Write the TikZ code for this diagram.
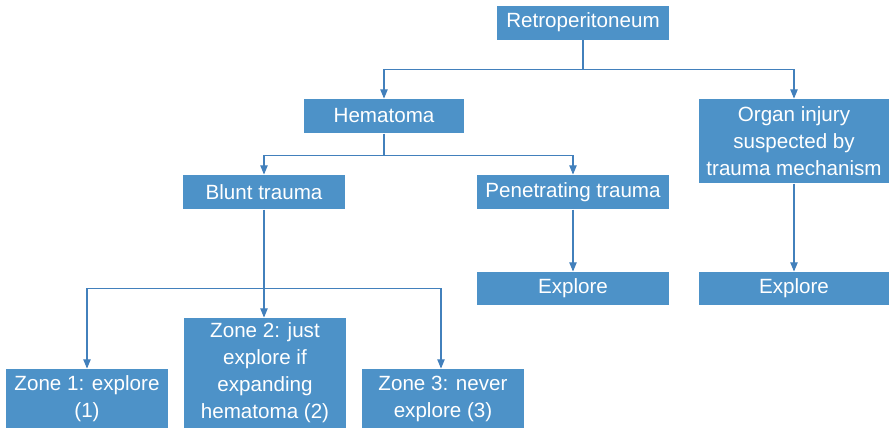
\documentclass[tikz,border=0pt]{standalone}
\usepackage{fontspec}
\setmainfont{Liberation Sans}
\usepackage{tikz}
\usetikzlibrary{arrows}

\definecolor{boxblue}{RGB}{77,146,200}
\definecolor{lineblue}{RGB}{66,128,188}

\begin{document}
\begin{tikzpicture}[x=1bp,y=-1bp,line width=1.1bp]
\fontsize{20.6bp}{27bp}\selectfont
\tikzstyle{box}=[rectangle, fill=boxblue, text=white, align=center, inner sep=0pt, minimum width=162bp, minimum height=34bp]
\tikzstyle{wire}=[draw=lineblue]
\tikzstyle{arr}=[draw=lineblue, -triangle 45]
\useasboundingbox (0,0) rectangle (889,430);
\node[box, minimum width=172bp] (retro) at (583,22.5) {Retroperitoneum};
\node[box, minimum width=160bp] (hema) at (384,116) {Hematoma};
\node[box, minimum width=190bp, minimum height=84bp] (organ) at (794,141) {Organ injury\\suspected by\\trauma mechanism};
\node[box] (blunt) at (264,192) {Blunt trauma};
\node[box, minimum width=192bp] (pen) at (573,192) {Penetrating trauma};
\node[box, minimum width=192bp, minimum height=33bp] (exp1) at (573,288.5) {Explore};
\node[box, minimum width=190bp, minimum height=33bp] (exp2) at (794,288.5) {Explore};
\node[box, minimum height=59bp] (zone1) at (87,398.5) {Zone 1: explore\\(1)};
\node[box, minimum height=110bp] (zone2) at (265,373) {Zone 2: just\\explore if\\expanding\\hematoma (2)};
\node[box, minimum height=59bp] (zone3) at (443,398.5) {Zone 3: never\\explore (3)};
\draw[wire] (retro.south) -- ++(0,29) coordinate (r);
\draw[arr] (r) -| (hema.north);
\draw[arr] (r) -| (organ.north);
\draw[wire] (hema.south) -- ++(0,22) coordinate (h);
\draw[arr] (h) -| (blunt.north);
\draw[arr] (h) -| (pen.north);
\draw[arr] (pen) -- (exp1);
\draw[arr] (organ) -- (exp2);
\draw[wire] (blunt.south) -- ++(0,79) coordinate (b);
\draw[arr] (b) -| (zone1.north);
\draw[arr] (b) -- (zone2.north -| b);
\draw[arr] (b) -| ([xshift=-2bp]zone3.north);
\end{tikzpicture}
\end{document}
